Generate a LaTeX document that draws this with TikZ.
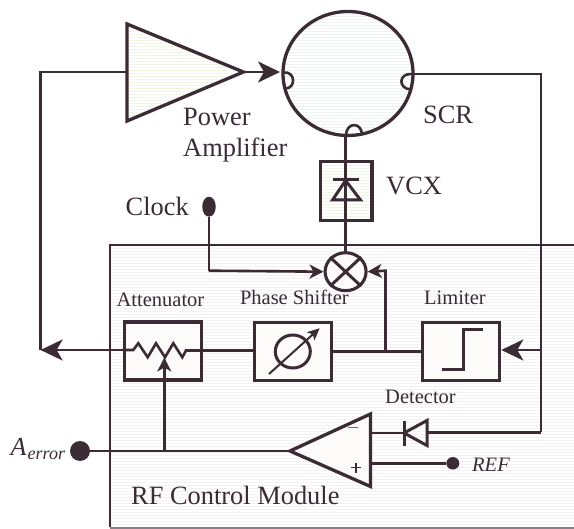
\documentclass[tikz,border=0pt]{standalone}
\usepackage{fontspec}
\setmainfont{Liberation Serif}
\usetikzlibrary{arrows.meta,shapes.geometric}
\definecolor{ink}{HTML}{3A2B35}
\definecolor{blockfill}{HTML}{FCFBFA}
\definecolor{stripeA}{HTML}{EDF4F2}
\definecolor{stripeB}{HTML}{F4F1F3}
\definecolor{stripeC}{HTML}{F0F6E6}
\newcommand{\stripefill}[5]{%
  \begin{scope}
    \clip #1;
    \foreach \yy [count=\ii] in {#2,#3,...,#4}{
      \pgfmathparse{int(mod(\ii,2))}
      \ifnum\pgfmathresult=0
        \draw[stripeB,line width=1pt] (0,\yy) -- (574,\yy);
      \else
        \draw[#5,line width=1pt] (0,\yy) -- (574,\yy);
      \fi
    }
  \end{scope}}
\tikzset{
  wire/.style={ink,line width=2.6pt,line join=miter},
  heavy/.style={ink,line width=3.3pt,line join=miter},
  blockbox/.style={draw=ink,line width=3.6pt,fill=blockfill,inner sep=0pt,minimum width=77pt,minimum height=58pt,rectangle},
  bighead/.style={-{Stealth[length=22pt,width=21pt,inset=6pt]}},
  midhead/.style={-{Stealth[length=14pt,width=14pt,inset=4pt]}},
  biglabel/.style={inner sep=0pt,anchor=base west,text=ink,font=\fontsize{26.4}{26.4}\selectfont},
  smalllabel/.style={inner sep=0pt,anchor=base west,text=ink,font=\fontsize{20.5}{20.5}\selectfont},
}
\begin{document}
\begin{tikzpicture}[x=1pt,y=-1pt]
\useasboundingbox (0,0) rectangle (574,529);
\fill[white] (0,0) rectangle (574,529);

% RF control module background
\stripefill{(110,245) rectangle (574,527)}{246}{249}{527}{stripeA}
\draw[ink,line width=2.6pt] (574,245) -- (110,245) -- (110,527.5);
\draw[ink!60,line width=1.6pt] (110,527.8) -- (574,527.8);

% coordinates
\coordinate (pain) at (127,72);
\coordinate (patip) at (243.4,72);
\coordinate (lefttop) at (40.6,72);
\coordinate (leftbot) at (40.6,350);
\coordinate (scrin) at (280,72);
\coordinate (scrout) at (413.5,74);
\coordinate (rtop) at (541,74);
\coordinate (rdet) at (541,432.5);
\coordinate (rlim) at (541,350);
\coordinate (scrbot) at (345.6,136);
\coordinate (tap) at (385.5,351.5);
\coordinate (clockcorner) at (209,270.7);
\coordinate (tapcorner) at (385.5,270.7);
\coordinate (attin) at (133.3,350);
\coordinate (attout) at (186,350.5);
\coordinate (wiper) at (164.3,357.5);
\coordinate (errjoin) at (164.3,451);
\coordinate (ampin) at (370.5,433);
\coordinate (ampref) at (370.5,463.3);
\coordinate (amptip) at (290,451);

% power amplifier
\stripefill{(127,22) -- (243.4,72) -- (127,122.7) -- cycle}{23}{26}{122}{stripeC}
\draw[heavy] (127,24) -- (243.4,72) -- (127,121) -- cycle;

% SCR
\stripefill{(348,73.5) ellipse [x radius=65,y radius=62]}{11}{14}{136}{stripeA}
\draw[ink,line width=3.3pt] (348,73.5) ellipse [x radius=65,y radius=62];
\draw[wire] (283.5,72.5) .. controls (296,71) and (296,89) .. (285,88.5);
\draw[wire] (412,74) .. controls (398,73) and (398,89) .. (411,89.5);
\draw[wire] (346,134.5) .. controls (347,122) and (361,122) .. (362,134);

% loop wires
\draw[wire] (pain) -- (lefttop) -- (leftbot);
\draw[wire,bighead] (patip) -- (scrin);
\draw[wire] (scrout) -- (rtop) -- (rdet);

% VCX
\stripefill{(320.5,162) rectangle (372,220)}{163}{166}{220}{stripeC}
\node[draw=ink,line width=3.1pt,inner sep=0pt,minimum width=51.5pt,minimum height=58.5pt] (vcx) at (346.2,191) {};
\node[draw=ink,line width=3.1pt,fill=blockfill,ellipse,inner sep=0pt,minimum width=41pt,minimum height=38pt] (mixer) at (345.6,271.7) {};
\draw[wire] (scrbot) -- (mixer.north);
\draw[ink,line width=3pt] (345.6,180.5) -- (332.5,200) -- (360.5,200) -- cycle;
\draw[ink,line width=3pt] (332.5,179.3) -- (359,179.3);

% mixer cross
\draw[ink,line width=3pt] (mixer.north west) -- (mixer.south east);
\draw[ink,line width=3pt] (mixer.north east) -- (mixer.south west);

% clock
\node[fill=ink,ellipse,inner sep=0pt,minimum width=13.5pt,minimum height=20pt] (clock) at (209,206.7) {};
\draw[wire] (clock.south) -- (clockcorner);
\draw[wire,midhead] (clockcorner) -- (mixer.west);
\draw[wire,midhead] (tap) -- (tapcorner) -- (mixer.east);

% blocks
\node[blockbox] (att) at (162.8,351) {};
\node[blockbox] (phase) at (292.8,351.5) {};
\node[blockbox] (lim) at (461,351.5) {};

% attenuator
\draw[wire,bighead] (att.west |- attin) -- (leftbot);
\draw[wire] (att.west |- attin) -- (attin) -- (138.3,343.3) -- (147.7,357.3) -- (156,343.3) -- (165,357.3) -- (173.3,343.3) -- (182.3,357.3) -- (attout) -- (att.east |- attout);
\draw[wire] (att.east |- attout) -- (phase.west |- attout);
\draw[wire,midhead] (errjoin) -- (wiper);

% phase shifter
\draw[ink,line width=3pt] (phase.center) ellipse [x radius=17.5,y radius=16.5];
\draw[ink,line width=2pt,-{Stealth[length=12pt,width=11pt,inset=3pt]}] (269,374) -- (319.6,328.3);

% limiter
\draw[wire] (phase.east) -- (lim.west);
\draw[ink,line width=3pt,line cap=butt] (442,369.3) -- (463,369.3) -- (463,330) -- (482.5,330);
\draw[wire,bighead] (rlim) -- (lim.east |- rlim);

% comparator
\draw[ink,line width=3.3pt,fill=blockfill,line join=miter] (amptip) -- (370.5,414) -- (370.5,486.5) -- cycle;
\draw[ink!70,line width=1.4pt] (347.5,427.7) -- (357.5,427.7);
\draw[ink,line width=1.6pt] (351,467.7) -- (361,467.7) (356,462.7) -- (356,472.7);

% detector diode
\draw[wire] (ampin) -- (404,433);
\draw[ink,line width=3pt] (404,433) -- (427,420.5) -- (427,445.5) -- cycle;
\draw[ink,line width=3pt] (404,421) -- (404,445.7);
\draw[wire] (427,432.5) -- (rdet);

% REF
\node[fill=ink,ellipse,inner sep=0pt,minimum width=13pt,minimum height=12.5pt] (ref) at (452.8,463.3) {};
\draw[wire] (ampref) -- (ref);

% A_error
\node[fill=ink,ellipse,inner sep=0pt,minimum width=20pt,minimum height=20pt] (aerr) at (80,451) {};
\draw[wire] (aerr) -- (amptip);

% labels
\node[biglabel] (lpower) at (183,126) {Power};
\node[biglabel] (lamp) at (183,157) {Amplifier};
\node[biglabel] (lscr) at (423,124) {SCR};
\node[biglabel] (lvcx) at (386,194.7) {VCX};
\node[biglabel] (lclock) at (125.5,216) {Clock};
\node[smalllabel] (latt) at (116.4,306.7) {Attenuator};
\node[smalllabel] (lphase) at (239.8,305) {Phase Shifter};
\node[smalllabel] (llim) at (424,305) {Limiter};
\node[smalllabel] (ldet) at (385,404) {Detector};
\node[smalllabel,font=\fontsize{20.5}{20.5}\selectfont\itshape] (lref) at (472,471.7) {REF};
\node[biglabel,font=\fontsize{26}{26}\selectfont\itshape] (la) at (10.3,456) {A};
\node[inner sep=0pt,anchor=base west,text=ink,font=\fontsize{18}{18}\selectfont\itshape] (lerr) at (27.5,459.5) {error};
\node[biglabel] (lrf) at (131,505) {RF Control Module};
\end{tikzpicture}
\end{document}
